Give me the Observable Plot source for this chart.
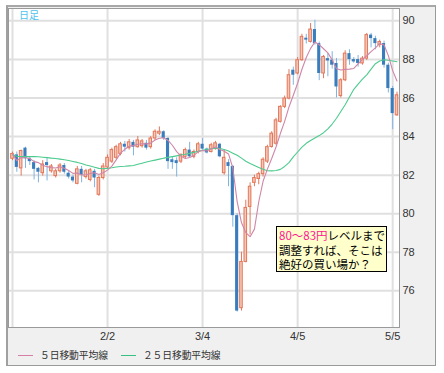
<!DOCTYPE html>
<html><head><meta charset="utf-8">
<script src="https://cdn.jsdelivr.net/npm/d3@7"></script>
<script src="https://cdn.jsdelivr.net/npm/@observablehq/plot@0.6"></script>
<style>
html,body{margin:0;padding:0;background:#fff;}
#wrap{position:relative;width:444px;height:373px;overflow:hidden;font-family:"Noto Sans CJK JP","Liberation Sans",sans-serif;}
#panel{position:absolute;left:6px;top:5px;width:430px;height:361px;box-sizing:border-box;background:#f0f0f0;border:1px solid #9a9a9a;border-left:2px solid #a0a0a0;border-top:2px solid #a8a8a8;}
#chart{position:absolute;left:0;top:0;}
#title{position:absolute;left:19px;top:7px;font-size:10px;color:#4ec3ee;}
#note{position:absolute;left:276px;top:226px;width:111px;height:46px;box-sizing:border-box;border:1px solid #000;background:#ffffcc;font-size:11.5px;line-height:14.5px;padding:1px 0 0 2px;color:#000;white-space:nowrap;}
#note .hl{color:#ff1493;}
#legend{position:absolute;left:18px;top:348px;font-size:9.8px;color:#333;display:flex;align-items:center;white-space:nowrap;}
#legend .ln{display:inline-block;width:15px;height:0;border-top:1.4px solid;margin-right:7px;}
#legend .item{display:flex;align-items:center;margin-right:13px;letter-spacing:-0.1px;}
</style>
</head><body>
<div id="wrap">
  <div id="panel"></div>
  <div id="chart"></div>
  <div id="title">日足</div>
  <div id="note"><span class="hl">80～83円</span>レベルまで<br>調整すれば、そこは<br>絶好の買い場か？</div>
  <div id="legend">
    <span class="item"><span class="ln" style="border-color:#d67fa6"></span>５日移動平均線</span>
    <span class="item"><span class="ln" style="border-color:#36c283"></span>２５日移動平均線</span>
  </div>
</div>
<script>
// Trading-day index 0 = 1/3, ticks at month steps
const tickDays = [0, 22, 44, 66, 88];
const tickLabels = ["", "2/2", "3/4", "4/5", "5/5"];
const yTicks = [76, 78, 80, 82, 84, 86, 88, 90];

const open = [82.85,83.05,82.35,83.4,82.85,82.65,82.35,82.1,82.65,82.2,
81.95,82.2,82.5,82.1,81.9,81.55,82.3,81.9,81.75,82.2,
80.98,81.85,82.4,82.7,82.9,83.1,83.6,83.4,83.7,83.45,
83.5,83.65,83.45,83.9,84.15,84.25,83.9,82.8,82.75,82.7,
82.95,83.3,82.95,83.2,83.6,83.35,83.2,83.35,83.6,82.1,
82.65,82.45,79.9,75.1,77.5,80.35,81.6,81.8,82.05,82.7,
83.46,83.63,84.76,85.54,85.97,87.44,87.27,87.96,89.1,88.91,
89.55,88.82,87.27,88.04,87.96,87.79,86.1,86.92,88.3,87.99,
87.99,87.79,88.04,89.26,89.08,88.75,88.82,87.7,86.49,85.1];
const high = [83.2,83.2,83.3,83.45,82.95,82.75,82.4,82.75,82.9,82.55,
82.3,82.6,82.6,82.2,82.0,82.45,82.45,82.3,82.35,82.3,
81.95,82.6,83.05,83.4,83.55,83.7,83.75,83.85,83.8,84.0,
83.85,83.8,84.0,84.35,84.5,84.3,83.95,82.95,82.9,83.1,
83.4,83.7,83.3,83.7,83.9,83.4,83.65,83.75,83.65,83.3,
82.8,82.5,80.0,78.0,80.7,81.6,82.0,82.15,82.9,83.55,
84.25,84.95,85.6,86.1,87.47,87.6,88.1,89.3,89.3,89.86,
90.03,88.9,88.2,88.3,88.4,88.05,87.0,88.45,88.5,88.1,
88.2,88.15,89.35,89.35,89.2,89.0,88.95,87.8,86.6,86.3];
const low = [82.75,82.15,81.95,82.35,82.5,81.75,81.6,81.95,81.7,82.1,
81.85,82.1,82.05,81.8,81.6,81.5,81.6,81.8,81.65,81.35,
80.9,81.75,82.3,82.6,82.8,83.0,83.2,83.3,83.0,83.4,
83.4,83.3,83.35,83.8,84.05,83.8,82.3,82.3,81.9,82.6,
82.85,82.9,82.85,83.1,83.3,83.1,83.15,83.3,82.9,82.0,
81.4,79.3,74.9,74.95,77.45,78.9,81.4,81.5,81.9,82.6,
83.4,83.55,84.7,85.45,85.9,86.66,87.2,87.9,88.8,88.85,
88.74,86.9,87.0,87.1,87.5,86.0,86.0,86.85,87.7,87.8,
87.6,87.7,87.95,88.6,88.5,88.6,87.55,86.26,84.36,85.05];
const close = [83.1,82.4,83.25,82.85,82.7,82.3,82.15,82.55,82.5,82.45,
82.2,82.5,82.15,81.9,81.7,82.3,82.0,82.2,82.25,81.85,
81.85,82.45,82.9,83.3,83.45,83.6,83.45,83.7,83.45,83.8,
83.75,83.4,83.9,84.25,84.25,83.9,82.7,82.65,82.6,83.05,
83.3,82.95,83.2,83.6,83.35,83.15,83.55,83.65,82.95,82.9,
82.45,79.9,74.95,77.5,80.3,81.4,81.85,82.05,82.8,83.45,
84.15,84.84,85.54,85.97,87.18,87.18,87.96,89.17,89.0,89.55,
88.82,87.27,88.13,87.92,87.7,86.57,86.92,88.3,87.99,87.87,
87.79,88.04,89.26,89.08,88.82,88.9,87.7,86.49,85.19,86.14];
const ma25 = [83.05,82.98,82.96,82.96,82.96,82.96,82.95,82.93,82.91,82.88,
82.86,82.83,82.8,82.76,82.71,82.66,82.6,82.53,82.47,82.41,
82.35,82.33,82.35,82.38,82.42,82.45,82.46,82.48,82.5,82.56,
82.62,82.68,82.73,82.78,82.83,82.88,82.92,82.96,83.0,83.04,
83.08,83.13,83.18,83.24,83.29,83.33,83.37,83.4,83.38,83.33,
83.25,83.14,83.03,82.88,82.72,82.6,82.5,82.4,82.3,82.23,
82.22,82.24,82.3,82.45,82.65,82.95,83.2,83.45,83.65,83.8,
83.93,84.05,84.2,84.4,84.65,84.95,85.3,85.65,86.05,86.45,
86.72,86.98,87.2,87.5,87.78,87.92,87.98,87.96,87.92,87.88];

const rows = close.map((c, i) => ({i, open: open[i], high: high[i], low: low[i], close: c, ma25: ma25[i], up: c >= open[i]}));
const ups = rows.filter(d => d.up);
const downs = rows.filter(d => !d.up);

const chart = Plot.plot({
  width: 444, height: 373,
  marginLeft: 8, marginRight: 45, marginTop: 8, marginBottom: 46,
  style: {background: "transparent", fontFamily: "Liberation Sans, Arial, sans-serif", fontSize: "11px", color: "#333", overflow: "visible"},
  x: {type: "linear", domain: [-0.926, 89.58]},
  y: {domain: [74.10, 90.64]},
  marks: [
    Plot.frame({fill: "white", stroke: "none"}),
    Plot.ruleY(yTicks, {stroke: "#e0e0e0", strokeWidth: 2}),
    Plot.ruleX(tickDays, {stroke: "#e0e0e0", strokeWidth: 2}),
    Plot.axisY({anchor: "right", ticks: yTicks, tickSize: 0, tickPadding: 3, label: null}),
    Plot.axisX({ticks: tickDays, tickFormat: d => tickLabels[tickDays.indexOf(d)], tickSize: 0, tickPadding: 5, label: null}),
    Plot.ruleX(downs, {x: "i", y1: "low", y2: "high", stroke: "#80b3e0", strokeWidth: 1}),
    Plot.ruleX(ups, {x: "i", y1: "low", y2: "high", stroke: "#e2775a", strokeWidth: 1}),
    Plot.rect(downs, {x1: d => d.i - 0.36, x2: d => d.i + 0.36, y1: "open", y2: "close", fill: "#3a7dbd"}),
    Plot.rect(ups, {x1: d => d.i - 0.3, x2: d => d.i + 0.3, y1: "open", y2: "close", fill: "#f6c6b6", stroke: "#e2775a", strokeWidth: 1}),
    Plot.lineY(rows, {x: "i", y: "ma25", stroke: "#4ccb8e", strokeWidth: 1.1}),
    Plot.lineY(rows, Plot.windowY({k: 5, anchor: "end"}, {x: "i", y: "close", stroke: "#cf86a8", strokeWidth: 1.1})),
    Plot.frame({stroke: "#9a9a9a"})
  ]
});
document.getElementById("chart").appendChild(chart);
</script>
</body></html>
